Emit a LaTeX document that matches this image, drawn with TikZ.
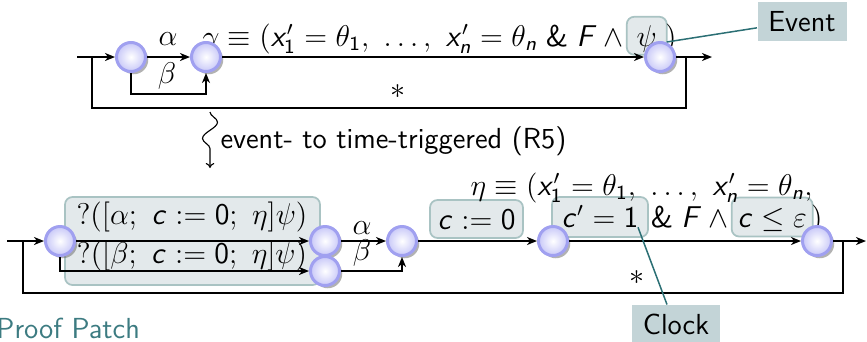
\documentclass[tikz,border=0pt]{standalone}
\usetikzlibrary{arrows.meta,shadows,decorations.pathmorphing,calc}
\renewcommand{\familydefault}{\sfdefault}
\DeclareSymbolFont{sfletters}{OT1}{cmss}{m}{sl}
\DeclareSymbolFont{sfops}{OT1}{cmss}{m}{n}
\DeclareMathSymbol{c}{\mathalpha}{sfletters}{`c}
\DeclareMathSymbol{x}{\mathalpha}{sfletters}{`x}
\DeclareMathSymbol{n}{\mathalpha}{sfletters}{`n}
\DeclareMathSymbol{F}{\mathalpha}{sfletters}{`F}
\DeclareMathSymbol{0}{\mathalpha}{sfops}{`0}
\DeclareMathSymbol{1}{\mathalpha}{sfops}{`1}
\DeclareMathSymbol{\sfamp}{\mathord}{sfops}{`\&}
\definecolor{stborder}{HTML}{A0A0F0}
\definecolor{stfill}{HTML}{C8C8F8}
\definecolor{hlfill}{HTML}{E3E9EB}
\definecolor{hlborder}{HTML}{A9C3C3}
\definecolor{tagfill}{HTML}{C3D4D7}
\definecolor{pincol}{HTML}{2B6F74}
\definecolor{titlecol}{HTML}{3C7B81}
\tikzset{
  st/.style={circle, minimum size=11.6pt, inner sep=0pt, draw=stborder, line width=1.2pt,
    inner color=white, outer color=stfill,
    drop shadow={shadow xshift=1.1pt, shadow yshift=-1.1pt, fill=black!60, opacity=.5}},
  hl/.style={rounded corners=3pt, draw=hlborder, line width=0.7pt, fill=hlfill,
    inner sep=0pt, text height=0.9em, text depth=0.08em},
  tag/.style={fill=tagfill, inner sep=0pt},
  tr/.style={-{Stealth[length=4pt,width=3.2pt,inset=1.2pt]}, line width=0.7pt},
  plain/.style={line width=0.7pt},
  pin/.style={draw=pincol, line width=0.6pt},
  lbl/.style={inner sep=0pt}
}
\begin{document}
\begin{tikzpicture}[x=0.4pt, y=-0.4pt, font=\fontsize{11.6}{14}\selectfont]
\useasboundingbox (0,0) rectangle (867,341);
\clip (0,0) rectangle (867,341);

% ---------- top row ----------
\coordinate (tin) at (77,57);
\coordinate (tl) at (92,57);
\coordinate (tj) at (686,57);
\coordinate (tout) at (712,57);
\coordinate (tbl) at (92,108);
\coordinate (ib) at (206,94);
\node[lbl, anchor=base west] (gam) at (202,46)
  {$\gamma\equiv(x_1'=\theta_1,\ \ldots,\ x_n'=\theta_n\;\sfamp\;F\mskip\medmuskip\wedge$};
\node[hl, anchor=base west, minimum width=16pt, minimum height=15.2pt] (psibox)
  at ([xshift=0.6pt]gam.base east) {$\psi$};
\node[lbl, anchor=base west] (gcl) at ([xshift=-1.2pt]psibox.base east) {$)$};
\node[st] (t1) at (131,57) {};
\node[st] (t2) at (206,57) {};
\node[st] (t3) at (660,57) {};
\draw[tr] (tin) -- (t1);
\draw[tr] (t1) -- (t2);
\node[lbl] (la) at (168,39) {$\alpha$};
\node[lbl] (lb) at (167,76) {$\beta$};
\draw[tr] (t1.south) |- (ib) -- (t2.south);
\draw[tr] (t2) -- (t3);
\draw[tr] (t3) -- (tout);
\draw[plain] (tj) |- (tbl) -- (tl);
\node[lbl] (tstar) at (398,92) {$*$};
\node[tag, minimum width=35.6pt, minimum height=15.6pt] (ev) at (802,21.5) {Event};
\draw[pin] (ev.188) -- ([shift={(8pt,1.6pt)}]psibox.base);

% ---------- transformation ----------
\coordinate (sq1) at (210,112);
\coordinate (sq2) at (210,168);
\draw[decorate, decoration={snake, amplitude=3pt, segment length=13pt, post length=2pt},
  -{To[length=2pt,width=3.4pt]}, line width=0.45pt] (sq1) -- (sq2);
\node[lbl, anchor=base west] (r5) at (220,148) {event- to time-triggered (R5)};

% ---------- bottom row ----------
\coordinate (bin) at (7,241);
\coordinate (bl) at (23,241);
\coordinate (bj) at (843,241);
\coordinate (bout) at (866,241);
\coordinate (bbl) at (23,293);
\node[hl, minimum width=102pt, minimum height=35.2pt] (big) at (192.5,241) {};
\node[lbl] (q1) at (192,217) {$?\bigl([\alpha;\ c:=0;\ \eta]\psi\bigr)$};
\node[lbl] (q2) at (192,256) {$?\bigl([\beta;\ c:=0;\ \eta]\psi\bigr)$};
\node[hl, minimum width=37.2pt, minimum height=15.2pt] (c0) at (476.5,219) {$c:=0$};
\node[hl, minimum width=38.4pt, minimum height=16pt] (c1) at (600,217) {$c'=1$};
\node[lbl, anchor=base west] (amp) at ([xshift=0.6pt]c1.base east)
  {$\sfamp\;F\mskip\medmuskip\wedge$};
\node[hl, anchor=base west, minimum width=32.4pt, minimum height=15.6pt] (cle)
  at ([xshift=0.6pt]amp.base east) {$c\le\varepsilon$};
\node[lbl, anchor=base west] (ccl) at ([xshift=-1.2pt]cle.base east) {$)$};
\node[lbl, anchor=base west] (eta) at (470,195)
  {$\eta\equiv(x_1'=\theta_1,\ \ldots,\ x_n'=\theta_n,$};
\node[st] (bA) at (60,241) {};
\node[st] (bB) at (325,241) {};
\node[st] (bC) at (325,271) {};
\node[st] (bD) at (402,241) {};
\node[st] (bE) at (553,241) {};
\node[st] (bF) at (817,241) {};
\draw[tr] (bin) -- (bA);
\draw[tr] (bA) -- (bB);
\draw[tr] (bA.south) |- (bC);
\draw[tr] (bB) -- (bD);
\node[lbl] (ba) at (362,228) {$\alpha$};
\node[lbl] (bb) at (362,253) {$\beta$};
\draw[tr] (bC) -| (bD.south);
\draw[tr] (bD) -- (bE);
\draw[tr] (bE) -- (bF);
\draw[tr] (bF) -- (bout);
\draw[plain] (bj) |- (bbl) -- (bl);
\node[lbl] (bstar) at (637,278) {$*$};
\node[tag, minimum width=35.2pt, minimum height=15.6pt] (clk) at (676,324.5) {Clock};
\draw[pin] ([xshift=-3.6pt]clk.north) -- ([xshift=15.2pt]c1.base);

\node[lbl, anchor=base west, text=titlecol] (pp) at (-4,338) {Proof Patch};
\end{tikzpicture}
\end{document}
